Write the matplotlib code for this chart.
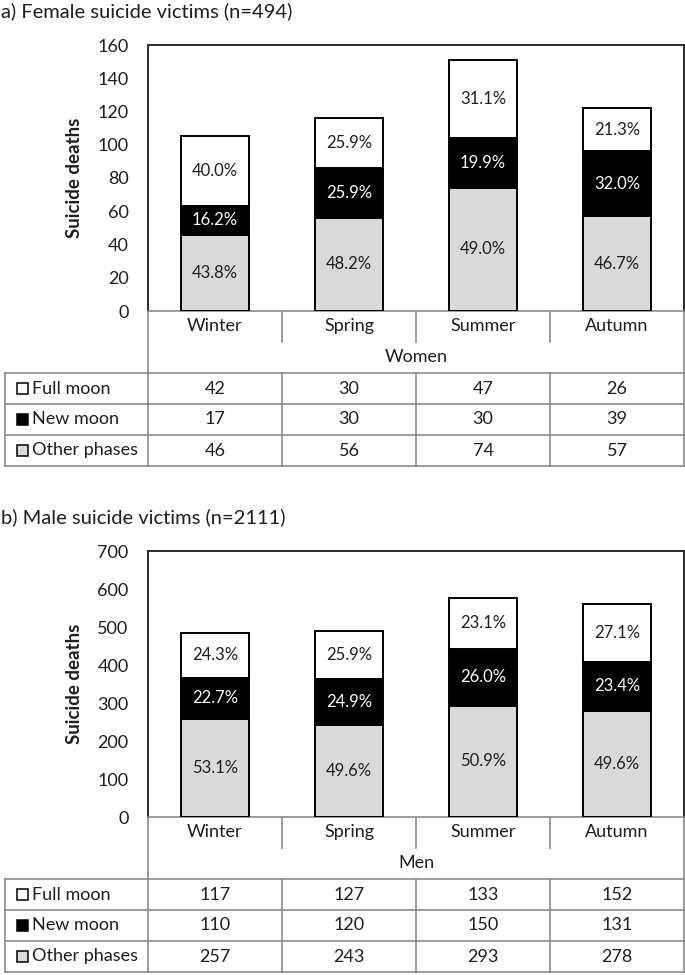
import matplotlib
matplotlib.use("Agg")
import matplotlib.pyplot as plt
from matplotlib.transforms import blended_transform_factory
from matplotlib.patches import Rectangle

plt.rcParams['font.family'] = ['Lato', 'DejaVu Sans']

seasons = ["Winter", "Spring", "Summer", "Autumn"]
phases = ["Full moon", "New moon", "Other phases"]

# women
women_full = [42, 30, 47, 26]
women_new = [17, 30, 30, 39]
women_other = [46, 56, 74, 57]
women_full_pct = ["40.0%", "25.9%", "31.1%", "21.3%"]
women_new_pct = ["16.2%", "25.9%", "19.9%", "32.0%"]
women_other_pct = ["43.8%", "48.2%", "49.0%", "46.7%"]

# men
men_full = [117, 127, 133, 152]
men_new = [110, 120, 150, 131]
men_other = [257, 243, 293, 278]
men_full_pct = ["24.3%", "25.9%", "23.1%", "27.1%"]
men_new_pct = ["22.7%", "24.9%", "26.0%", "23.4%"]
men_other_pct = ["53.1%", "49.6%", "50.9%", "49.6%"]

W, H = 685, 975
GRID = "#8a8a8a"
TXT = "#1e1e1e"
FILL = {"Full moon": "white", "New moon": "black", "Other phases": "#d9d9d9"}

fig = plt.figure(figsize=(W / 100, H / 100), dpi=100)
# overlay axes in pixel coords for the table part
bg = fig.add_axes([0, 0, 1, 1])
bg.set_xlim(0, W)
bg.set_ylim(H, 0)
bg.axis("off")

X0, X1 = 148, 684
TBL_L = 5


def draw_panel(off, title, group, full, new, other, pcts, ymax, ystep):
    top, zero = 45 + off, 311 + off
    row = 31
    bg.text(1, 11 + off, title, fontsize=14.5, va="center", ha="left", color=TXT)

    ax = fig.add_axes([X0 / W, (H - zero) / H, (X1 - X0) / W, (zero - top) / H])
    x = range(len(seasons))
    bottoms = [0] * len(seasons)
    for vals, name, labs in zip([other, new, full], ["Other phases", "New moon", "Full moon"], pcts):
        ax.bar(x, vals, 0.51, bottom=bottoms, color=FILL[name], edgecolor="black", linewidth=1.4, zorder=3)
        for i, v in enumerate(vals):
            ax.text(i, bottoms[i] + v / 2, labs[i], ha="center", va="center", fontsize=12,
                    color="white" if name == "New moon" else TXT, zorder=4)
        bottoms = [b + v for b, v in zip(bottoms, vals)]

    ax.set_xlim(-0.5, len(seasons) - 0.5)
    ax.set_ylim(0, ymax)
    ax.set_yticks(range(0, ymax + 1, ystep))
    ax.tick_params(axis="y", length=0, pad=14, labelsize=13, labelcolor=TXT)
    ax.set_xticks(list(x))
    ax.set_xticklabels(seasons)
    ax.tick_params(axis="x", length=0, pad=5, labelsize=13, labelcolor=TXT)
    ax.set_ylabel("Suicide deaths", fontsize=13.5, fontweight="bold", labelpad=10, color=TXT)
    for s in ["top", "right", "left"]:
        ax.spines[s].set_color("#2a2a2a")
        ax.spines[s].set_linewidth(1.4)
    ax.spines["bottom"].set_color(GRID)
    ax.spines["bottom"].set_linewidth(1.2)

    tr = blended_transform_factory(ax.transData, bg.transData)
    # season separators
    for k in range(1, len(seasons)):
        bg.plot([k - 0.5, k - 0.5], [zero, zero + row], color=GRID, lw=1.2, transform=tr)
    # group row
    bg.plot([X0, X0], [zero, zero + 2 * row], color=GRID, lw=1.2)
    bg.plot([X1, X1], [zero, zero + 2 * row], color=GRID, lw=1.2)
    bg.text((X0 + X1) / 2, zero + 1.5 * row, group, ha="center", va="center", fontsize=13, color=TXT)

    # data rows
    ys = [zero + 2 * row + i * row for i in range(len(phases) + 1)]
    for y in ys:
        bg.plot([TBL_L, X1], [y, y], color=GRID, lw=1.2)
    for xx in [TBL_L, X0, X1]:
        bg.plot([xx, xx], [ys[0], ys[-1]], color=GRID, lw=1.2)
    for k in range(1, len(seasons)):
        bg.plot([k - 0.5, k - 0.5], [ys[0], ys[-1]], color=GRID, lw=1.2, transform=tr)
    for r, (name, vals) in enumerate(zip(phases, [full, new, other])):
        yc = (ys[r] + ys[r + 1]) / 2
        bg.add_patch(Rectangle((17, yc - 5.5), 11, 11, facecolor=FILL[name], edgecolor="black", lw=1.1))
        bg.text(32, yc, name, ha="left", va="center", fontsize=13, color=TXT)
        for i, v in enumerate(vals):
            bg.text(i, yc, str(v), ha="center", va="center", fontsize=13, color=TXT, transform=tr)


draw_panel(0, "a) Female suicide victims (n=494)", "Women", women_full, women_new, women_other,
           [women_other_pct, women_new_pct, women_full_pct], 160, 20)
draw_panel(506, "b) Male suicide victims (n=2111)", "Men", men_full, men_new, men_other,
           [men_other_pct, men_new_pct, men_full_pct], 700, 100)

fig.savefig("out.png", dpi=100)
